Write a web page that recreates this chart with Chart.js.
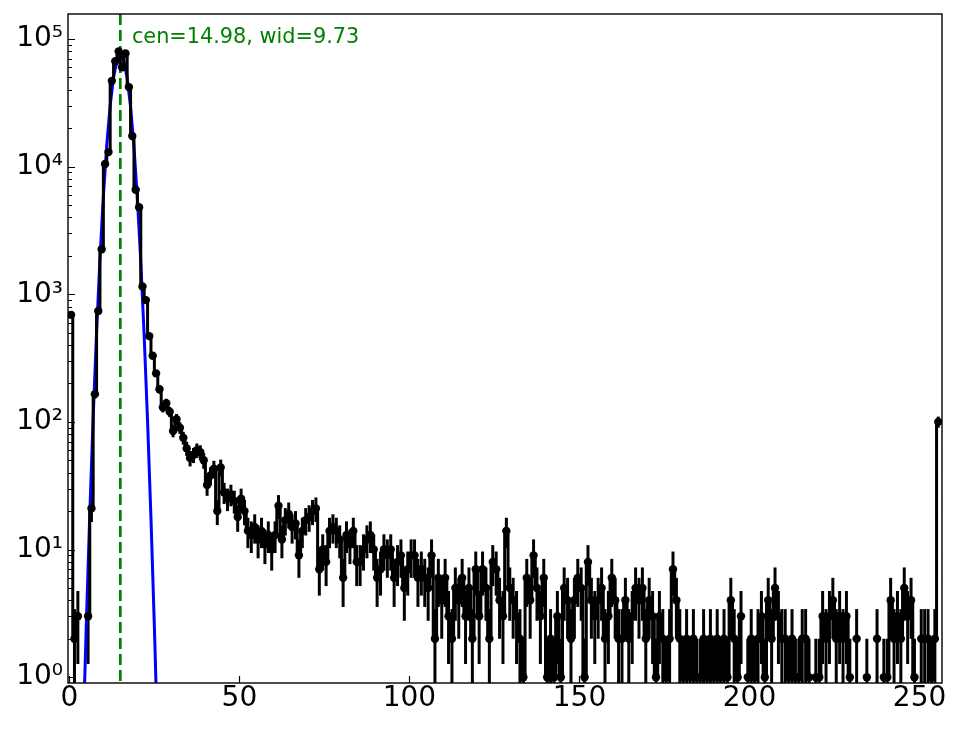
<!DOCTYPE html>
<html><head><meta charset="utf-8">
<style>html,body{margin:0;padding:0;background:#fff;}canvas{display:block;}</style>
<script src="https://cdn.jsdelivr.net/npm/chart.js@4/dist/chart.umd.min.js"></script>
</head><body>
<canvas id="c" width="964" height="729"></canvas>
<script>
// histogram counts per bin (bins 0..255)
const counts = [
 690, 2, 3, 0, 0, 3, 21, 165, 740, 2250,
 10500, 13000, 47000, 67000, 80000, 60000, 77000, 42000, 17400, 6600,
 4800, 1150, 900, 470, 330, 240, 180, 130, 140, 120,
 85, 105, 90, 75, 62, 52, 55, 60, 58, 50,
 32, 38, 43, 20, 44, 28, 25, 27, 24, 18,
 25, 20, 14, 13, 15, 12, 14, 11, 13, 10,
 13, 22, 12, 17, 19, 15, 16, 9, 14, 17,
 18, 20, 21, 7, 10, 8, 14, 15, 14, 12,
 6, 13, 11, 14, 8, 8, 10, 12, 13, 10,
 6, 7, 10, 9, 10, 6, 8, 9, 5, 7,
 9, 9, 6, 7, 6, 5, 9, 2, 6, 4,
 6, 3, 2, 5, 4, 6, 3, 5, 2, 7,
 3, 7, 5, 2, 8, 7, 4, 3, 14, 5,
 4, 3, 2, 1, 6, 4, 9, 5, 3, 6,
 1, 2, 1, 3, 1, 5, 4, 2, 4, 6,
 5, 1, 8, 4, 3, 4, 5, 2, 3, 6,
 4, 2, 2, 4, 2, 3, 5, 4, 5, 2,
 4, 3, 1, 3, 2, 1, 2, 7, 4, 2,
 1, 2, 1, 2, 1, 1, 2, 1, 2, 1,
 2, 1, 2, 1, 4, 2, 1, 3, 0, 1,
 2, 1, 2, 3, 1, 4, 2, 5, 3, 2,
 2, 1, 2, 1, 1, 2, 2, 1, 0, 1,
 1, 3, 2, 3, 4, 2, 3, 2, 3, 1,
 0, 2, 0, 0, 1, 0, 0, 2, 0, 1,
 1, 4, 2, 3, 2, 5, 3, 4, 1, 0,
 2, 2, 2, 1, 2, 100
];
// bin centres
const bins = counts.map((_, i) => i + 0.5);
// Poisson error bars
const errors = counts.map(v => Math.sqrt(v));

// Gaussian fit curve, sampled (values read/estimated)
const fitX = [4,5,6,7,8,9,10,11,12,13,14,15,16,17,18,19,20,21,22,23,24,25,26];
const fitY = [0.312,2.69,18.9,108,501,1901,5861,14720,30130,50120,67920,75000,67400,49320,29380,14260,5623,1807,473,101,17.5,2.48,0.285];

const fitCen = 14.98;
const fitLabel = 'cen=14.98, wid=9.73';
const xTicks = [0, 50, 100, 150, 200, 250];
const yTicks = [1, 10, 100, 1000, 10000, 100000];
const sup = ['⁰','¹','²','³','⁴','⁵','⁶'];

const overlay = {
  id: 'overlay',
  beforeDatasetsDraw(chart) {
    const {ctx, chartArea: a, scales: {x, y}} = chart;
    ctx.save();
    ctx.beginPath(); ctx.rect(a.left, a.top, a.right - a.left, a.bottom - a.top); ctx.clip();
    // dashed centre line
    const cx = x.getPixelForValue(fitCen);
    ctx.strokeStyle = '#008000'; ctx.lineWidth = 2.7; ctx.setLineDash([11, 5]);
    ctx.beginPath(); ctx.moveTo(cx, a.top); ctx.lineTo(cx, a.bottom); ctx.stroke();
    ctx.setLineDash([]);
    // error bars
    ctx.strokeStyle = '#000'; ctx.lineWidth = 3;
    counts.forEach((v, i) => {
      if (v <= 0) return;
      const e = errors[i];
      const px = x.getPixelForValue(bins[i]);
      const top = y.getPixelForValue(v + e);
      const lo = v - e;
      const bot = lo > 0 ? y.getPixelForValue(lo) : a.bottom + 5;
      ctx.beginPath(); ctx.moveTo(px, top); ctx.lineTo(px, bot); ctx.stroke();
    });
    ctx.restore();
  },
  afterDatasetsDraw(chart) {
    const {ctx, chartArea: a, scales: {x, y}} = chart;
    ctx.save();
    // label
    ctx.fillStyle = '#008000';
    ctx.font = '20.8px "DejaVu Sans"';
    ctx.textBaseline = 'alphabetic';
    ctx.textAlign = 'left';
    ctx.fillText(fitLabel, x.getPixelForValue(18.4), y.getPixelForValue(93000));
    // frame
    ctx.strokeStyle = '#000'; ctx.lineWidth = 1.4;
    ctx.strokeRect(a.left, a.top, a.right - a.left, a.bottom - a.top);
    // ticks (inward)
    ctx.lineWidth = 1.2;
    ctx.beginPath();
    xTicks.forEach(t => {
      const px = Math.round(x.getPixelForValue(t)) + 0.5;
      ctx.moveTo(px, a.bottom); ctx.lineTo(px, a.bottom - 7);
    });
    for (let d = 0; d <= 5; d++) {
      for (let m = 1; m <= 9; m++) {
        const v = m * Math.pow(10, d);
        if (v < y.min || v > y.max) continue;
        const py = Math.round(y.getPixelForValue(v)) + 0.5;
        ctx.moveTo(a.left, py); ctx.lineTo(a.left + (m === 1 ? 7 : 4), py);
      }
    }
    ctx.stroke();
    ctx.restore();
  }
};

new Chart(document.getElementById('c'), {
  type: 'line',
  data: {
    datasets: [
      {
        label: 'data',
        data: bins.map((b, i) => ({x: b, y: counts[i] > 0 ? counts[i] : null})),
        stepped: 'middle',
        spanGaps: false,
        borderColor: '#000',
        borderWidth: 3,
        pointRadius: 4.2,
        pointBackgroundColor: '#000',
        pointBorderWidth: 0,
        order: 0
      },
      {
        label: 'fit',
        data: fitX.map((xv, i) => ({x: xv, y: fitY[i]})),
        borderColor: '#0000ff',
        borderWidth: 3,
        pointRadius: 0,
        tension: 0,
        order: 1
      }
    ]
  },
  options: {
    responsive: false,
    animation: false,
    devicePixelRatio: 1,
    layout: {padding: {left: 0, top: 14, right: 22, bottom: 0}},
    plugins: {legend: {display: false}, tooltip: {enabled: false}},
    scales: {
      x: {
        type: 'linear', min: -0.4, max: 256.6,
        grid: {display: false, drawTicks: false},
        border: {display: false},
        ticks: {font: {family: 'DejaVu Sans', size: 28, lineHeight: 1}, color: '#000', padding: 2, maxRotation: 0, autoSkip: false},
        afterBuildTicks: s => { s.ticks = xTicks.map(v => ({value: v})); },
        afterFit: s => { s.height = 46; s.paddingLeft = 0; s.paddingRight = 0; }
      },
      y: {
        type: 'logarithmic', min: 0.9, max: 157000,
        grid: {display: false, drawTicks: false},
        border: {display: false},
        ticks: {
          font: {family: 'DejaVu Sans', size: 28, lineHeight: 1}, color: '#000', padding: 5, autoSkip: false,
          callback: v => '10' + sup[Math.round(Math.log10(v))]
        },
        afterBuildTicks: s => { s.ticks = yTicks.map(v => ({value: v})); },
        afterFit: s => { s.width = 68; s.paddingTop = 0; s.paddingBottom = 0; }
      }
    }
  },
  plugins: [overlay]
});
</script>
</body></html>
